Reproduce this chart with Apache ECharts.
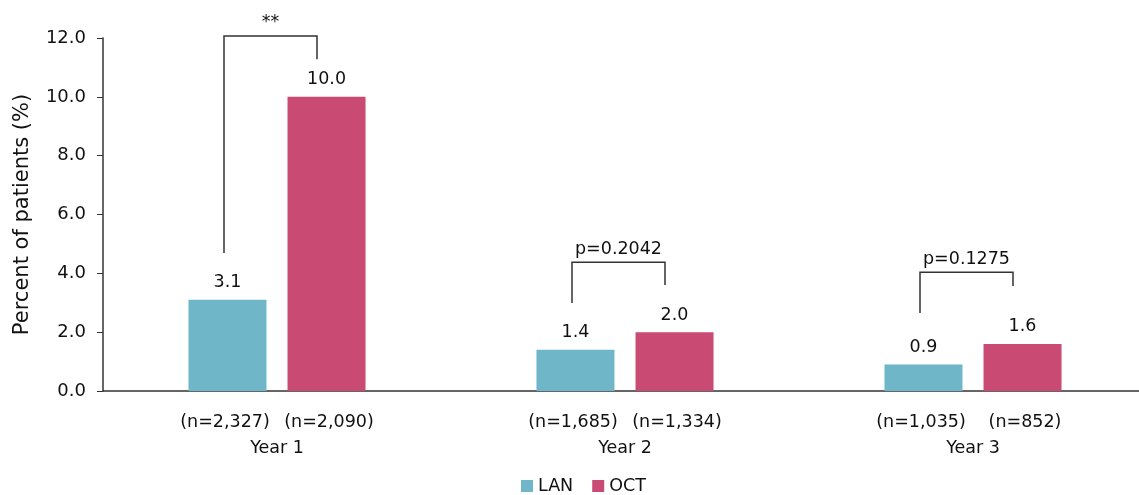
<!DOCTYPE html>
<html>
<head>
<meta charset="utf-8">
<script src="https://cdn.jsdelivr.net/npm/echarts@6/dist/echarts.min.js"></script>
<style>
  html, body { margin: 0; padding: 0; background: #fff; overflow: hidden; }
  #chart { width: 1147px; height: 495px; }
</style>
</head>
<body>
<div id="chart"></div>
<script>
var years = ['Year 1', 'Year 2', 'Year 3'];
var nLan = ['(n=2,327)', '(n=1,685)', '(n=1,035)'];
var nOct = ['(n=2,090)', '(n=1,334)', '(n=852)'];
var lanValues = [3.1, 1.4, 0.9];
var octValues = [10.0, 2.0, 1.6];
// bracket: [category, top, left leg bottom, right leg bottom, text]
var brackets = [
  [0, 12.07, 4.69, 11.28, '**'],
  [1, 4.38, 2.99, 3.60, 'p=0.2042'],
  [2, 4.04, 2.65, 3.57, 'p=0.1275']
];

var FONT = 'DejaVu Sans';
var myChart = echarts.init(document.getElementById('chart'));

var catLabels = [];
for (var i = 0; i < years.length; i++) {
  catLabels.push('{a|' + nLan[i] + '}{b|' + nOct[i] + '}\n{y|' + years[i] + '}');
}

var option = {
  animation: false,
  textStyle: { fontFamily: FONT },
  grid: { left: 103, top: 38, right: 0, height: 353 },
  legend: {
    data: ['LAN', 'OCT'],
    left: 516,
    top: 472,
    icon: 'rect',
    itemWidth: 12,
    itemHeight: 12,
    itemGap: 19,
    textStyle: { fontSize: 17.5, color: '#111', fontFamily: FONT }
  },
  xAxis: {
    type: 'category',
    data: catLabels,
    axisLine: { lineStyle: { color: '#333', width: 1.5 } },
    axisTick: { show: false },
    axisLabel: {
      margin: 18,
      color: '#111',
      fontSize: 17.5,
      lineHeight: 26,
      rich: {
        a: { width: 104, align: 'center', fontSize: 17.5, color: '#111', fontFamily: FONT },
        b: { width: 104, align: 'center', fontSize: 17.5, color: '#111', fontFamily: FONT },
        y: { fontSize: 17.5, color: '#111', fontFamily: FONT, lineHeight: 26 }
      }
    }
  },
  yAxis: {
    type: 'value',
    min: 0,
    max: 12,
    interval: 2,
    name: 'Percent of patients (%)',
    nameLocation: 'middle',
    nameGap: 70,
    nameTextStyle: { fontSize: 21, color: '#111', fontFamily: FONT },
    axisLine: { show: true, lineStyle: { color: '#333', width: 1.5 } },
    axisTick: { show: true, length: 6, lineStyle: { color: '#333' } },
    splitLine: { show: false },
    axisLabel: {
      margin: 17,
      color: '#111',
      fontSize: 18,
      formatter: function (v) { return v.toFixed(1); }
    }
  },
  series: [
    {
      name: 'LAN',
      type: 'bar',
      data: lanValues,
      barWidth: 78,
      barGap: '27%',
      itemStyle: { color: '#6eb6c8' },
      label: {
        show: true, position: 'top', distance: 8, fontSize: 17.5, color: '#111',
        formatter: function (p) { return p.value.toFixed(1); }
      }
    },
    {
      name: 'OCT',
      type: 'bar',
      data: octValues,
      barWidth: 78,
      barGap: '27%',
      itemStyle: { color: '#c94a72' },
      label: {
        show: true, position: 'top', distance: 8, fontSize: 17.5, color: '#111',
        formatter: function (p) { return p.value.toFixed(1); }
      }
    },
    {
      type: 'custom',
      silent: true,
      z: 5,
      data: brackets,
      renderItem: function (params, api) {
        var c = api.value(0);
        var top = api.coord([c, api.value(1)]);
        var lb = api.coord([c, api.value(2)]);
        var rb = api.coord([c, api.value(3)]);
        var xl = top[0] - 53;
        var xr = top[0] + 40;
        var text = brackets[params.dataIndex][4];
        return {
          type: 'group',
          children: [
            {
              type: 'polyline',
              shape: { points: [[xl, lb[1]], [xl, top[1]], [xr, top[1]], [xr, rb[1]]] },
              style: { stroke: '#333', lineWidth: 1.5, fill: null }
            },
            {
              type: 'text',
              style: {
                x: (xl + xr) / 2, y: top[1] - 4,
                text: text, align: 'center', verticalAlign: 'bottom',
                fontSize: 17.5, fill: '#111', fontFamily: FONT
              }
            }
          ]
        };
      }
    }
  ]
};
myChart.setOption(option);
</script>
</body>
</html>
